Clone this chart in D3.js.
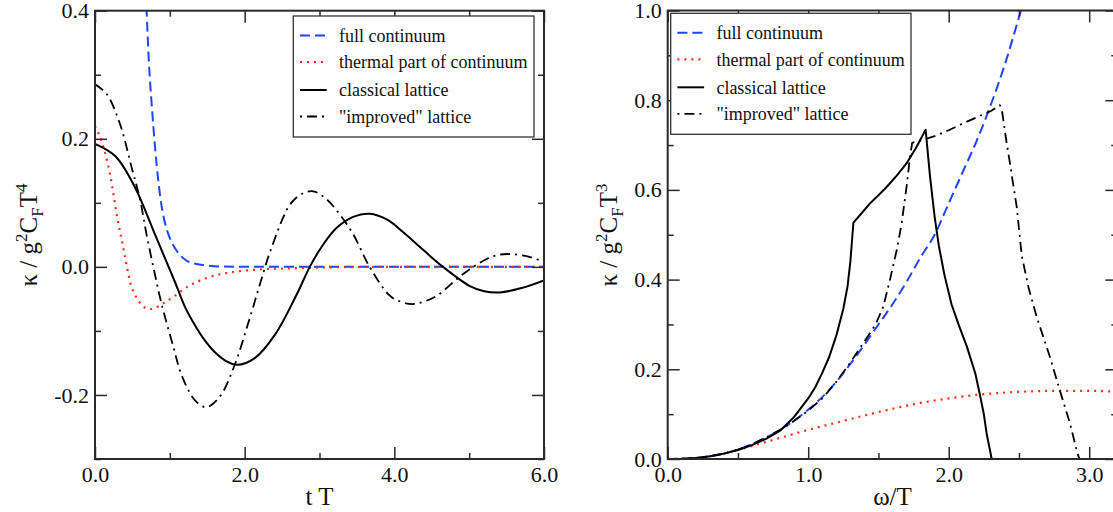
<!DOCTYPE html>
<html><head><meta charset="utf-8">
<script src="https://cdn.jsdelivr.net/npm/d3@7"></script>
<style>
body{margin:0;background:#fff}
svg{display:block}
text{font-family:"Liberation Serif","Times New Roman",serif;fill:#111}
</style>
</head><body>
<svg id="c" width="1113" height="512"></svg>
<script>
// ---------------- data: left panel (t T vs kappa / g^2 C_F T^4) ----------------
const leftFullT = [0.68, 0.69, 0.72, 0.76, 0.80, 0.85, 0.90, 0.95, 1.0, 1.07, 1.14, 1.22, 1.34, 1.5, 1.7, 2.0, 3.0, 4.0, 5.0, 6.0];
const leftFullK = [0.43, 0.40, 0.32, 0.25, 0.19, 0.13, 0.088, 0.062, 0.045, 0.029, 0.018, 0.010, 0.005, 0.002, 0.0005, 0, 0, 0, 0, 0];

const leftThermT = [0, 0.1, 0.2, 0.3, 0.4, 0.47, 0.55, 0.63, 0.72, 0.8, 0.9, 1.07, 1.25, 1.5, 1.85, 2.2, 2.7, 3.3, 4.0, 5.0, 6.0];
const leftThermK = [0.220, 0.192, 0.145, 0.076, 0.017, -0.024, -0.047, -0.060, -0.066, -0.064, -0.058, -0.045, -0.030, -0.017, -0.008, -0.004, -0.002, -0.0005, 0, 0, 0];

const leftClassT = [0, 0.27, 0.535, 0.8, 1.07, 1.2, 1.34, 1.45, 1.6, 1.75, 1.9, 2.14, 2.41, 2.7, 2.87, 3.05, 3.23, 3.45, 3.67, 3.9, 4.12, 4.4, 4.65, 5.01, 5.2, 5.41, 5.7, 6.0];
const leftClassK = [0.192, 0.173, 0.124, 0.051, -0.024, -0.062, -0.092, -0.112, -0.133, -0.147, -0.153, -0.142, -0.105, -0.042, 0.0, 0.035, 0.061, 0.078, 0.083, 0.074, 0.054, 0.025, 0.0, -0.030, -0.038, -0.040, -0.033, -0.021];

const leftImpT = [0, 0.156, 0.334, 0.49, 0.6, 0.69, 0.82, 0.89, 1.05, 1.16, 1.34, 1.47, 1.55, 1.69, 1.87, 2.05, 2.23, 2.35, 2.61, 2.78, 2.92, 3.1, 3.27, 3.45, 3.67, 3.94, 4.1, 4.25, 4.4, 4.57, 4.92, 5.23, 5.4, 5.55, 5.75, 5.95, 6.0];
const leftImpK = [0.285, 0.270, 0.223, 0.155, 0.106, 0.050, -0.022, -0.058, -0.126, -0.170, -0.209, -0.219, -0.216, -0.199, -0.152, -0.087, -0.017, 0.027, 0.098, 0.115, 0.118, 0.105, 0.082, 0.051, 0.0, -0.045, -0.055, -0.058, -0.054, -0.045, -0.011, 0.012, 0.019, 0.020, 0.017, 0.010, 0.008];

// ---------------- data: right panel (omega/T vs kappa / g^2 C_F T^3) ----------------
const rightFullW = [0, 0.2, 0.4, 0.6, 0.8, 1.0, 1.1, 1.2, 1.3, 1.4, 1.5, 1.6, 1.7, 1.8, 1.9, 2.0, 2.1, 2.2, 2.3, 2.4, 2.5, 2.55];
const rightFullK = [0, 0.002, 0.012, 0.033, 0.065, 0.11, 0.138, 0.172, 0.212, 0.255, 0.30, 0.345, 0.395, 0.45, 0.50, 0.57, 0.64, 0.71, 0.79, 0.88, 0.985, 1.04];

const rightThermW = [0, 0.2, 0.3, 0.4, 0.5, 0.6, 0.8, 1.0, 1.2, 1.4, 1.6, 1.8, 2.0, 2.2, 2.4, 2.6, 2.8, 3.0, 3.2];
const rightThermK = [0, 0.002, 0.006, 0.012, 0.020, 0.029, 0.047, 0.065, 0.081, 0.097, 0.112, 0.125, 0.135, 0.143, 0.148, 0.151, 0.152, 0.152, 0.150];

const rightClassW = [0, 0.1, 0.2, 0.3, 0.4, 0.5, 0.6, 0.7, 0.8, 0.9, 1.0, 1.05, 1.1, 1.15, 1.2, 1.25, 1.28, 1.30, 1.315, 1.322, 1.38, 1.44, 1.5, 1.56, 1.63, 1.70, 1.77, 1.836, 1.867, 1.90, 1.93, 1.97, 2.02, 2.07, 2.13, 2.19, 2.225, 2.25, 2.27, 2.306, 3.2];
const rightClassK = [0, 0.0004, 0.002, 0.006, 0.012, 0.020, 0.031, 0.045, 0.063, 0.094, 0.135, 0.160, 0.192, 0.228, 0.275, 0.335, 0.385, 0.44, 0.50, 0.527, 0.548, 0.570, 0.588, 0.607, 0.632, 0.659, 0.695, 0.734, 0.63, 0.54, 0.475, 0.41, 0.345, 0.30, 0.25, 0.19, 0.139, 0.10, 0.057, 0, 0];

const rightImpW = [0, 0.1, 0.2, 0.3, 0.4, 0.5, 0.6, 0.7, 0.8, 0.9, 1.0, 1.1, 1.2, 1.3, 1.4, 1.48, 1.535, 1.582, 1.63, 1.665, 1.70, 1.725, 1.74, 1.80, 1.90, 2.0, 2.1, 2.2, 2.3, 2.365, 2.38, 2.41, 2.436, 2.46, 2.484, 2.52, 2.57, 2.626, 2.72, 2.79, 2.863, 2.91, 2.93, 3.2];
const rightImpK = [0, 0.0004, 0.002, 0.006, 0.012, 0.021, 0.033, 0.048, 0.065, 0.085, 0.108, 0.135, 0.172, 0.215, 0.262, 0.30, 0.34, 0.40, 0.466, 0.525, 0.607, 0.674, 0.705, 0.71, 0.72, 0.733, 0.748, 0.762, 0.776, 0.789, 0.775, 0.71, 0.659, 0.61, 0.5625, 0.453, 0.38, 0.317, 0.228, 0.154, 0.08, 0.02, 0, 0];

// ---------------- ticks & labels ----------------
const leftXMajor = [0, 2, 4, 6];
const leftXMinor = [1, 3, 5];
const leftXLabels = ["0.0", "2.0", "4.0", "6.0"];
const leftYMajor = [-0.2, 0, 0.2, 0.4];
const leftYMinor = [-0.3, -0.1, 0.1, 0.3];
const leftYLabels = ["-0.2", "0.0", "0.2", "0.4"];

const rightXMajor = [0, 1, 2, 3];
const rightXMinor = [0.5, 1.5, 2.5];
const rightXLabels = ["0.0", "1.0", "2.0", "3.0"];
const rightYMajor = [0, 0.2, 0.4, 0.6, 0.8, 1.0];
const rightYMinor = [0.1, 0.3, 0.5, 0.7, 0.9];
const rightYLabels = ["0.0", "0.2", "0.4", "0.6", "0.8", "1.0"];

const legendLabels = ["full continuum", "thermal part of continuum", "classical lattice", "\"improved\" lattice"];

// ---------------- styles ----------------
const seriesStyles = [
  {stroke: "#1f44ff", width: 2, dash: "10,5", legOff: 0},
  {stroke: "#ff2a12", width: 2.2, dash: "2,5", legOff: 0},
  {stroke: "#000", width: 2, dash: null, legOff: 0},
  {stroke: "#000", width: 1.8, dash: "10,5,2,5", legOff: 15}
];

const svg = d3.select("#c");
const FONT = '"Liberation Serif","Times New Roman",serif';
const frameColor = "#2a2a2a";

function panel(cfg) {
  const x = d3.scaleLinear().domain(cfg.xDomain).range(cfg.xRange);
  const y = d3.scaleLinear().domain(cfg.yDomain).range(cfg.yRange);
  const g = svg.append("g");
  const clipId = "clip" + cfg.id;
  svg.append("clipPath").attr("id", clipId).append("rect")
    .attr("x", cfg.xRange[0]).attr("y", cfg.yRange[1])
    .attr("width", cfg.xRange[1] - cfg.xRange[0]).attr("height", cfg.yRange[0] - cfg.yRange[1]);

  // curves
  const cg = g.append("g").attr("clip-path", `url(#${clipId})`);
  cfg.series.forEach((s, i) => {
    const st = seriesStyles[i];
    const line = d3.line().x(d => x(d[0])).y(d => y(d[1])).curve(s.curve);
    cg.append("path").datum(d3.zip(s.xs, s.ys))
      .attr("d", line).attr("fill", "none")
      .attr("stroke", st.stroke).attr("stroke-width", st.width)
      .attr("stroke-dasharray", st.dash).attr("stroke-linejoin", "round");
  });

  // axes (ticks inward)
  function styleAxis(sel) {
    sel.select(".domain").remove();
    sel.selectAll("line").attr("stroke", frameColor).attr("stroke-width", 1.5);
    sel.attr("font-family", FONT).attr("font-size", 22);
    sel.selectAll("text").attr("fill", "#111");
  }
  const fmt = (vals, labs) => v => labs[vals.indexOf(v)];
  const [x0, x1] = cfg.xRange, [yb, yt] = cfg.yRange;

  g.append("g").attr("transform", `translate(0,${yb})`)
    .call(d3.axisBottom(x).tickValues(cfg.xMajor).tickSize(-12).tickPadding(7).tickFormat(fmt(cfg.xMajor, cfg.xLabels)))
    .call(styleAxis);
  g.append("g").attr("transform", `translate(0,${yb})`)
    .call(d3.axisBottom(x).tickValues(cfg.xMinor).tickSize(-6).tickFormat(""))
    .call(styleAxis);
  g.append("g").attr("transform", `translate(0,${yt})`)
    .call(d3.axisTop(x).tickValues(cfg.xMajor).tickSize(-12).tickFormat(""))
    .call(styleAxis);
  g.append("g").attr("transform", `translate(0,${yt})`)
    .call(d3.axisTop(x).tickValues(cfg.xMinor).tickSize(-6).tickFormat(""))
    .call(styleAxis);
  g.append("g").attr("transform", `translate(${x0},0)`)
    .call(d3.axisLeft(y).tickValues(cfg.yMajor).tickSize(-12).tickPadding(6).tickFormat(fmt(cfg.yMajor, cfg.yLabels)))
    .call(styleAxis);
  g.append("g").attr("transform", `translate(${x0},0)`)
    .call(d3.axisLeft(y).tickValues(cfg.yMinor).tickSize(-6).tickFormat(""))
    .call(styleAxis);
  g.append("g").attr("transform", `translate(${x1},0)`)
    .call(d3.axisRight(y).tickValues(cfg.yMajor).tickSize(-12).tickFormat(""))
    .call(styleAxis);
  g.append("g").attr("transform", `translate(${x1},0)`)
    .call(d3.axisRight(y).tickValues(cfg.yMinor).tickSize(-6).tickFormat(""))
    .call(styleAxis);

  // frame
  g.append("rect").attr("x", x0).attr("y", yt).attr("width", x1 - x0).attr("height", yb - yt)
    .attr("fill", "none").attr("stroke", frameColor).attr("stroke-width", 2);

  // legend
  const L = cfg.legend;
  const lg = g.append("g");
  lg.append("rect").attr("x", L.x).attr("y", L.y).attr("width", L.w).attr("height", L.h)
    .attr("fill", "#fff").attr("stroke", "#333").attr("stroke-width", 1.3);
  const rowY = [19.5, 46, 74, 100.5];
  legendLabels.forEach((lab, i) => {
    const st = seriesStyles[i];
    const yy = L.y + rowY[i];
    lg.append("line").attr("x1", L.x + 6.7).attr("x2", L.x + 33.4).attr("y1", yy).attr("y2", yy)
      .attr("stroke", st.stroke).attr("stroke-width", st.width)
      .attr("stroke-dasharray", st.dash).attr("stroke-dashoffset", st.legOff);
    lg.append("text").attr("x", L.x + 45.7).attr("y", yy + 6.2)
      .attr("font-size", 18).text(lab);
  });

  // axis titles
  g.append("text").attr("x", (x0 + x1) / 2).attr("y", 505)
    .attr("text-anchor", "middle").attr("font-size", 25).text(cfg.xTitle);

  const yt2 = g.append("text").attr("transform", `translate(${cfg.yTitleX},235) rotate(-90)`)
    .attr("text-anchor", "middle").attr("font-size", 25);
  yt2.append("tspan").text("κ / g");
  yt2.append("tspan").attr("font-size", 17).attr("dy", -10).text("2");
  yt2.append("tspan").attr("dy", 10).text("C");
  yt2.append("tspan").attr("font-size", 17).attr("dy", 6).text("F");
  yt2.append("tspan").attr("dy", -6).text("T");
  yt2.append("tspan").attr("font-size", 17).attr("dy", -10).text(cfg.yPow);
}

panel({
  id: "L", xDomain: [0, 6], xRange: [95, 544], yDomain: [-0.3, 0.4], yRange: [459, 10.7],
  series: [
    {xs: leftFullT, ys: leftFullK, curve: d3.curveMonotoneX},
    {xs: leftThermT, ys: leftThermK, curve: d3.curveMonotoneX},
    {xs: leftClassT, ys: leftClassK, curve: d3.curveCatmullRom.alpha(0.5)},
    {xs: leftImpT, ys: leftImpK, curve: d3.curveCatmullRom.alpha(0.5)}
  ],
  xMajor: leftXMajor, xMinor: leftXMinor, xLabels: leftXLabels,
  yMajor: leftYMajor, yMinor: leftYMinor, yLabels: leftYLabels,
  legend: {x: 293.3, y: 16, w: 240.7, h: 121},
  xTitle: "t T", yTitleX: 37, yPow: "4"
});

panel({
  id: "R", xDomain: [0, 3.2], xRange: [667.7, 1117.3], yDomain: [0, 1], yRange: [459, 10.5],
  series: [
    {xs: rightFullW, ys: rightFullK, curve: d3.curveMonotoneX},
    {xs: rightThermW, ys: rightThermK, curve: d3.curveMonotoneX},
    {xs: rightClassW, ys: rightClassK, curve: d3.curveLinear},
    {xs: rightImpW, ys: rightImpK, curve: d3.curveLinear}
  ],
  xMajor: rightXMajor, xMinor: rightXMinor, xLabels: rightXLabels,
  yMajor: rightYMajor, yMinor: rightYMinor, yLabels: rightYLabels,
  legend: {x: 670.7, y: 13.3, w: 240.3, h: 121},
  xTitle: "ω/T", yTitleX: 617, yPow: "3"
});
</script>
</body></html>
